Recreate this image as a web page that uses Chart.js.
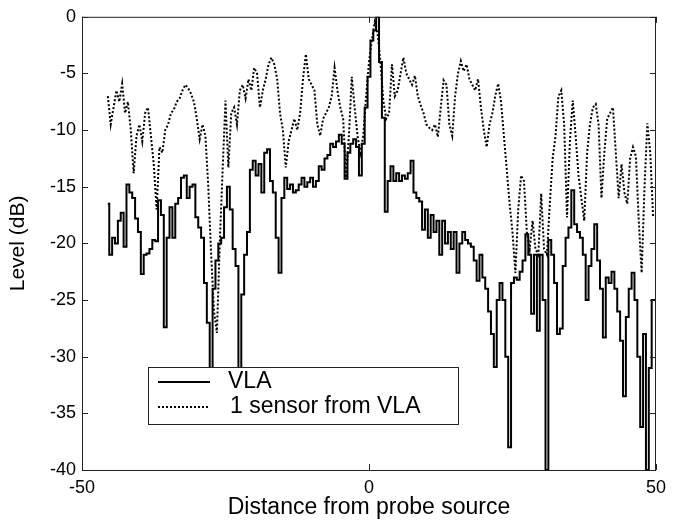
<!DOCTYPE html>
<html>
<head>
<meta charset="utf-8">
<script src="https://cdn.jsdelivr.net/npm/chart.js@4"></script>
<style>
  html, body { margin: 0; padding: 0; background: #fff; }
  #wrap { width: 673px; height: 521px; position: relative; }
</style>
</head>
<body>
<div id="wrap"><canvas id="c"></canvas></div>
<script>
// Level vs distance from probe source: VLA vs single sensor.

const X_POS = [
  -45.5, -45.0, -44.5, -44.0, -43.5, -43.0, -42.5, -42.0, -41.5, -41.0,
  -40.5, -40.0, -39.5, -39.0, -38.5, -38.0, -37.5, -37.0, -36.5, -36.0,
  -35.5, -35.0, -34.5, -34.0, -33.5, -33.0, -32.5, -32.0, -31.5, -31.0,
  -30.5, -30.0, -29.5, -29.0, -28.5, -28.0, -27.5, -27.0, -26.5, -26.0,
  -25.5, -25.0, -24.5, -24.0, -23.5, -23.0, -22.5, -22.0, -21.5, -21.0,
  -20.5, -20.0, -19.5, -19.0, -18.5, -18.0, -17.5, -17.0, -16.5, -16.0,
  -15.5, -15.0, -14.5, -14.0, -13.5, -13.0, -12.5, -12.0, -11.5, -11.0,
  -10.5, -10.0, -9.5, -9.0, -8.5, -8.0, -7.5, -7.0, -6.5, -6.0,
  -5.5, -5.0, -4.5, -4.0, -3.5, -3.0, -2.5, -2.0, -1.5, -1.0,
  -0.5, 0.0, 0.5, 1.0, 1.5, 2.0, 2.5, 3.0, 3.5, 4.0,
  4.5, 5.0, 5.5, 6.0, 6.5, 7.0, 7.5, 8.0, 8.5, 9.0,
  9.5, 10.0, 10.5, 11.0, 11.5, 12.0, 12.5, 13.0, 13.5, 14.0,
  14.5, 15.0, 15.5, 16.0, 16.5, 17.0, 17.5, 18.0, 18.5, 19.0,
  19.5, 20.0, 20.5, 21.0, 21.5, 22.0, 22.5, 23.0, 23.5, 24.0,
  24.5, 25.0, 25.5, 26.0, 26.5, 27.0, 27.5, 28.0, 28.5, 29.0,
  29.5, 30.0, 30.5, 31.0, 31.5, 32.0, 32.5, 33.0, 33.5, 34.0,
  34.5, 35.0, 35.5, 36.0, 36.5, 37.0, 37.5, 38.0, 38.5, 39.0,
  39.5, 40.0, 40.5, 41.0, 41.5, 42.0, 42.5, 43.0, 43.5, 44.0,
  44.5, 45.0, 45.5, 46.0, 46.5, 47.0, 47.5, 48.0, 48.5, 49.0,
  49.5, 50.0
];

const VLA_DB = [
  -16.5, -21.0, -19.5, -20.0, -18.0, -17.3, -20.3, -14.8, -15.5, -16.0,
  -17.8, -19.0, -22.7, -21.0, -20.9, -20.5, -19.7, -19.8, -16.2, -17.5,
  -27.4, -19.5, -16.8, -19.5, -16.5, -16.0, -14.2, -14.0, -16.0, -15.0,
  -14.8, -17.7, -18.6, -19.5, -23.5, -27.0, -33.0, -24.0, -21.5, -20.0,
  -19.5, -16.8, -15.0, -17.0, -20.5, -22.0, -33.0, -24.5, -21.0, -19.0,
  -13.5, -12.7, -14.0, -13.0, -15.5, -12.0, -11.7, -14.5, -15.5, -19.5,
  -22.6, -16.0, -14.2, -15.2, -14.8, -15.5, -15.3, -14.8, -14.2, -15.0,
  -14.6, -14.2, -15.0, -14.5, -13.2, -13.5, -12.5, -12.2, -11.2, -11.5,
  -11.0, -10.4, -11.2, -14.3, -12.0, -11.2, -10.8, -11.5, -14.0, -11.2,
  -8.0, -5.3, -2.1, -1.2, 0.0, -4.0, -8.9, -17.2, -14.5, -13.2,
  -14.5, -13.8, -14.5, -14.0, -14.3, -13.8, -12.7, -15.5, -16.0, -16.3,
  -18.8, -17.0, -19.5, -17.5, -19.0, -18.0, -21.0, -18.0, -20.0, -19.0,
  -20.5, -19.0, -22.6, -20.0, -19.0, -19.7, -20.0, -20.3, -21.5, -23.3,
  -21.0, -23.0, -24.0, -26.0, -28.0, -30.9, -25.0, -23.5, -25.0, -30.0,
  -38.0, -23.5, -23.0, -23.2, -22.5, -21.5, -19.2, -21.0, -26.2, -21.0,
  -27.7, -21.0, -25.0, -40.0, -19.7, -21.0, -23.5, -28.0, -27.5, -22.0,
  -19.5, -18.6, -15.3, -18.3, -19.0, -19.5, -21.0, -25.0, -22.0, -20.5,
  -18.3, -21.5, -24.0, -28.3, -23.0, -23.5, -22.5, -24.0, -26.0, -28.6,
  -33.5, -26.5, -24.0, -22.6, -25.0, -30.0, -36.2, -28.0, -40.0, -31.0,
  -25.0, -25.0
];

const SENSOR_DB = [
  -7.0, -9.5, -8.0, -6.5, -7.5, -5.9, -8.5, -7.5, -10.0, -13.8,
  -10.5, -9.5, -11.0, -8.5, -8.0, -10.5, -13.0, -17.0, -11.5, -12.0,
  -10.0, -9.5, -8.5, -8.2, -7.5, -7.2, -6.5, -6.0, -6.3, -6.8,
  -7.5, -9.0, -10.8, -9.5, -10.5, -15.0, -21.0, -26.0, -27.9, -20.0,
  -13.5, -7.4, -13.3, -8.5, -8.0, -9.5, -6.5, -6.0, -7.2, -5.5,
  -6.5, -4.5, -5.0, -8.0, -6.5, -5.5, -4.2, -3.6, -4.2, -5.5,
  -8.5, -10.0, -13.3, -11.0, -10.0, -9.0, -10.0, -8.5, -5.5, -3.3,
  -5.5, -6.0, -6.5, -9.5, -10.5, -9.0, -8.5, -8.0, -7.0, -4.5,
  -6.5, -8.0, -9.0, -14.2, -10.5, -5.3, -8.0, -10.5, -12.0, -10.5,
  -7.0, -4.0, -2.0, -0.5, -1.5, -4.0, -7.4, -9.0, -8.5, -4.2,
  -7.0, -6.5, -5.0, -3.6, -5.0, -5.5, -6.0, -5.2, -7.0, -7.8,
  -8.5, -9.5, -9.8, -10.0, -9.5, -10.6, -8.0, -5.6, -6.0, -9.5,
  -10.5, -7.0, -5.0, -3.9, -4.8, -4.2, -5.5, -6.0, -6.5, -5.5,
  -8.0, -10.0, -11.5, -9.5, -8.5, -7.0, -5.9, -7.5, -10.5, -13.5,
  -16.5, -19.0, -22.6, -17.0, -14.0, -14.5, -19.0, -20.5, -18.0, -20.5,
  -21.0, -15.6, -20.5, -21.0, -16.5, -12.5, -10.5, -7.0, -6.5, -9.5,
  -17.7, -11.0, -7.4, -10.5, -14.0, -16.0, -18.0, -12.0, -9.5, -8.0,
  -7.7, -9.5, -16.0, -12.0, -9.0, -8.5, -8.0, -12.0, -16.0, -13.0,
  -15.5, -16.5, -12.5, -11.5, -12.3, -18.0, -22.6, -15.0, -9.4, -12.0,
  -17.7, null
];

const SERIES_NAMES = ['VLA', '1 sensor from VLA'];
const X_TICKS = [-50, 0, 50];
const Y_TICKS = [-40, -35, -30, -25, -20, -15, -10, -5, 0];

const FONT = '"Liberation Sans", Arial, Helvetica, sans-serif';
const INK = '#000';

const pts = (ys) => X_POS.map((x, i) => ({ x, y: ys[i] }));

// box around the axes with inward ticks on all four sides (matlab look)
const frame = {
  id: 'frame',
  afterDatasetsDraw(chart) {
    const { ctx, chartArea: a, scales } = chart;
    ctx.save();
    ctx.strokeStyle = '#222';
    ctx.lineWidth = 1;
    ctx.strokeRect(a.left + 0.5, a.top + 0.5, a.right - a.left - 1, a.bottom - a.top);
    ctx.beginPath();
    Y_TICKS.forEach((v) => {
      const y = Math.round(scales.y.getPixelForValue(v)) + 0.5;
      ctx.moveTo(a.left, y); ctx.lineTo(a.left + 6, y);
      ctx.moveTo(a.right - 6, y); ctx.lineTo(a.right, y);
    });
    X_TICKS.forEach((v) => {
      const x = Math.round(scales.x.getPixelForValue(v)) + 0.5;
      ctx.moveTo(x, a.bottom); ctx.lineTo(x, a.bottom - 6);
      ctx.moveTo(x, a.top); ctx.lineTo(x, a.top + 6);
    });
    ctx.stroke();
    ctx.restore();
  },
};

// boxed legend with white fill sitting over the lines
const boxLegend = {
  id: 'boxLegend',
  afterDraw(chart) {
    const ctx = chart.ctx;
    const L = 148, T = 367, W = 311, H = 58;
    ctx.save();
    ctx.fillStyle = '#fff';
    ctx.fillRect(L, T, W, H);
    ctx.strokeStyle = '#222';
    ctx.lineWidth = 1;
    ctx.strokeRect(L + 0.5, T + 0.5, W - 1, H - 1);

    ctx.strokeStyle = INK;
    ctx.lineWidth = 2;
    ctx.beginPath(); ctx.moveTo(158, 382); ctx.lineTo(210, 382); ctx.stroke();
    ctx.setLineDash([2, 2]);
    ctx.beginPath(); ctx.moveTo(158, 407); ctx.lineTo(210, 407); ctx.stroke();
    ctx.setLineDash([]);

    ctx.fillStyle = INK;
    ctx.font = '23px ' + FONT;
    ctx.textBaseline = 'alphabetic';
    ctx.fillText(SERIES_NAMES[0], 228, 388);
    ctx.fillText(SERIES_NAMES[1], 230, 413);
    ctx.restore();
  },
};

new Chart(document.getElementById('c'), {
  type: 'line',
  data: {
    datasets: [
      {
        label: SERIES_NAMES[1],
        data: pts(SENSOR_DB),
        borderColor: INK,
        borderWidth: 2,
        borderDash: [2, 2],
        pointRadius: 0,
        tension: 0,
        spanGaps: false,
      },
      {
        label: SERIES_NAMES[0],
        data: pts(VLA_DB),
        borderColor: INK,
        borderWidth: 2,
        pointRadius: 0,
        tension: 0,
        stepped: 'middle',
      },
    ],
  },
  options: {
    responsive: true,
    maintainAspectRatio: false,
    animation: false,
    devicePixelRatio: 1,
    layout: { padding: { top: 16, right: 14, left: 0, bottom: 0 } },
    plugins: { legend: { display: false }, tooltip: { enabled: false } },
    scales: {
      x: {
        type: 'linear',
        min: -50, max: 50,
        afterBuildTicks: (s) => { s.ticks = X_TICKS.map((v) => ({ value: v })); },
        afterFit: (s) => { s.height = 51; },
        grid: { display: false, drawTicks: false },
        border: { display: false },
        ticks: { color: INK, font: { family: FONT, size: 18 }, padding: 7, maxRotation: 0 },
        title: {
          display: true, text: 'Distance from probe source', color: INK,
          font: { family: FONT, size: 23 }, padding: { top: 0, bottom: 0 },
        },
      },
      y: {
        min: -40, max: 0,
        afterBuildTicks: (s) => { s.ticks = Y_TICKS.map((v) => ({ value: v })); },
        afterFit: (s) => { s.width = 82; },
        grid: { display: false, drawTicks: false },
        border: { display: false },
        ticks: { color: INK, font: { family: FONT, size: 18 }, padding: 6 },
        title: {
          display: true, text: 'Level (dB)', color: INK,
          font: { family: FONT, size: 21 }, padding: { top: 6, bottom: 0 },
        },
      },
    },
  },
  plugins: [frame, boxLegend],
});
</script>
</body>
</html>
